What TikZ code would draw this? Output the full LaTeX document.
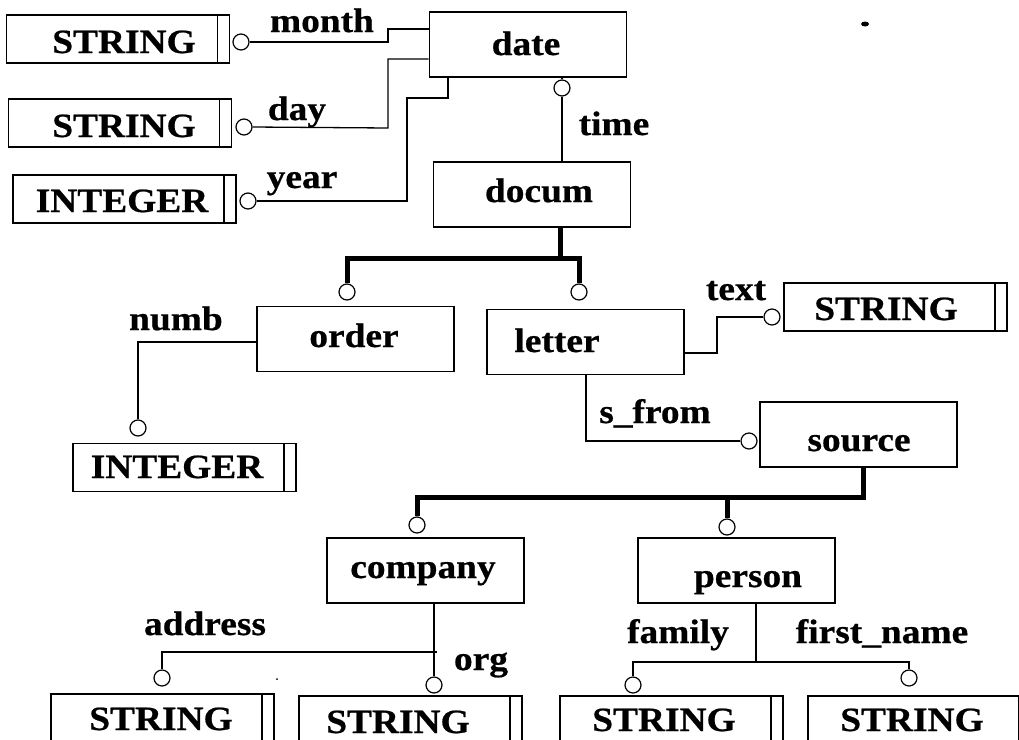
\documentclass[tikz,border=0pt]{standalone}
\usepackage{fontspec}
\setmainfont{Liberation Serif}[FakeStretch=1.1, BoldFeatures={FakeBold=0.6}]
\begin{document}
\begin{tikzpicture}[x=1pt,y=-1pt,
  ent/.style={draw, line width=1.8pt, minimum width=197pt, minimum height=65pt, inner sep=0pt},
  typ/.style={draw, line width=1.8pt, minimum width=223pt, minimum height=48pt, inner sep=0pt,
    path picture={\draw[line width=1.5pt]
      ([xshift=-12pt]path picture bounding box.north east) --
      ([xshift=-12pt]path picture bounding box.south east);}},
  ring/.style={circle, draw, line width=1.2pt, minimum size=16pt, inner sep=0pt, fill=white},
  conn/.style={line width=1.3pt},
  isa/.style={line width=5pt},
  txt/.style={font=\fontsize{34}{37}\selectfont\bfseries, anchor=base, inner sep=0pt}]

\useasboundingbox (0,0) rectangle (1019,739);
\clip (0,0) rectangle (1019,739);
\fill[white] (0,0) rectangle (1019,739);

% entity boxes
\node[ent] (date)    at (528,44.5)  {};
\node[ent] (docum)   at (532,194.5) {};
\node[ent] (order)   at (355.5,339) {};
\node[ent] (letter)  at (585.5,342) {};
\node[ent] (source)  at (858.5,434.5) {};
\node[ent] (company) at (425.5,570.5) {};
\node[ent] (person)  at (736.5,570.5) {};

% basic type boxes
\node[typ] (s-month) at (118,39)      {};
\node[typ] (s-day)   at (120,123)     {};
\node[typ] (i-year)  at (124.5,199)   {};
\node[typ] (i-numb)  at (184.5,467.5) {};
\node[typ] (s-text)  at (895.5,307)   {};
\node[typ, minimum height=54pt] (s-addr)  at (162.5,721) {};
\node[typ, minimum height=54pt] (s-org)   at (410.5,723) {};
\node[typ, minimum height=54pt] (s-fam)   at (671.5,723) {};
\node[typ, minimum height=54pt] (s-first) at (919.5,723) {};

% texts of the boxes
\node[txt] (t-date)    at (526,55)  {date};
\node[txt] (t-docum)   at (539,202) {docum};
\node[txt] (t-order)   at (354,347) {order};
\node[txt] (t-letter)  at (557,352) {letter};
\node[txt] (t-source)  at (859,451) {source};
\node[txt] (t-company) at (423,578) {company};
\node[txt] (t-person)  at (748,587) {person};
\node[txt] (t-s1) at (124,53)  {STRING};
\node[txt] (t-s2) at (124,137) {STRING};
\node[txt] (t-i1) at (122,212) {INTEGER};
\node[txt] (t-i2) at (177,478) {INTEGER};
\node[txt] (t-s3) at (886,320) {STRING};
\node[txt] (t-s4) at (161,730) {STRING};
\node[txt] (t-s5) at (398,733) {STRING};
\node[txt] (t-s6) at (664,731) {STRING};
\node[txt] (t-s7) at (912,731) {STRING};

% attribute names
\node[txt] (l-month) at (322,32)  {month};
\node[txt] (l-day)   at (297,120) {day};
\node[txt] (l-year)  at (302,188) {year};
\node[txt] (l-time)  at (614,135) {time};
\node[txt] (l-numb)  at (176,330) {numb};
\node[txt] (l-text)  at (736,300) {text};
\node[txt] (l-from)  at (655,423) {s\_from};
\node[txt] (l-addr)  at (205,635) {address};
\node[txt] (l-org)   at (481,670) {org};
\node[txt] (l-fam)   at (678,643) {family};
\node[txt] (l-first) at (882,643) {first\_name};

% link ends
\node[ring] (c-month)   at (241,42)  {};
\node[ring] (c-day)     at (244,127) {};
\node[ring] (c-year)    at (248,201) {};
\node[ring] (c-time)    at (562,88)  {};
\node[ring] (c-order)   at (347,292) {};
\node[ring] (c-letter)  at (579,292) {};
\node[ring] (c-text)    at (772,317) {};
\node[ring] (c-numb)    at (138,428) {};
\node[ring] (c-sfrom)   at (749,441) {};
\node[ring] (c-company) at (417,525) {};
\node[ring] (c-person)  at (727,527) {};
\node[ring] (c-address) at (162,678) {};
\node[ring] (c-org)     at (434,685) {};
\node[ring] (c-family)  at (633,685) {};
\node[ring] (c-first)   at (909,678) {};

% attributes of date
\draw[conn] (c-month.east) -- (388,42) |- ([yshift=15.5pt]date.west);
\draw[conn] (c-day.east) -- (388,128) |- ([yshift=-14.5pt]date.west);
\draw[conn] (c-year.east) -- (407,201) |- ([xshift=-80pt,yshift=-20pt]date.south)
  -- ([xshift=-80pt]date.south);

% docum -> date
\draw[conn] ([xshift=34pt]date.south) -- (c-time.north);
\draw[conn] (c-time.south) -- (c-time.south |- docum.north);

% docum specialisations
\draw[isa] ([xshift=28pt]docum.south) -- ++(0,31);
\draw[isa] (c-order.north) -- ++(0,-25) -| (c-letter.north);

% order / letter attributes
\draw[conn] ([yshift=-3pt]order.west) -| (c-numb.north);
\draw[conn] ([yshift=-11pt]letter.east) -- (717,353) |- (c-text.west);
\draw[conn] ([xshift=0.5pt]letter.south) |- (c-sfrom.west);

% source specialisations
\draw[isa] ([xshift=4.5pt]source.south) -- ++(0,30) -| (c-company.north);
\draw[isa] (c-person.north) -- ++(0,-22);

% company attributes
\coordinate (jc) at (434,652);
\draw[conn] ([xshift=8.5pt]company.south) -- (c-org.north);
\draw[conn] ([xshift=3pt]jc) -| (c-address.north);

% person attributes
\coordinate (jp) at (756,662);
\draw[conn] ([xshift=19.5pt]person.south) -- (jp);
\draw[conn] (c-family.north) -- (c-family.north |- jp) -- (c-first.north |- jp) -- (c-first.north);

% specks
\fill (865,24) ellipse (4pt and 2.5pt);
\fill (277,679) circle (1pt);
\end{tikzpicture}
\end{document}
